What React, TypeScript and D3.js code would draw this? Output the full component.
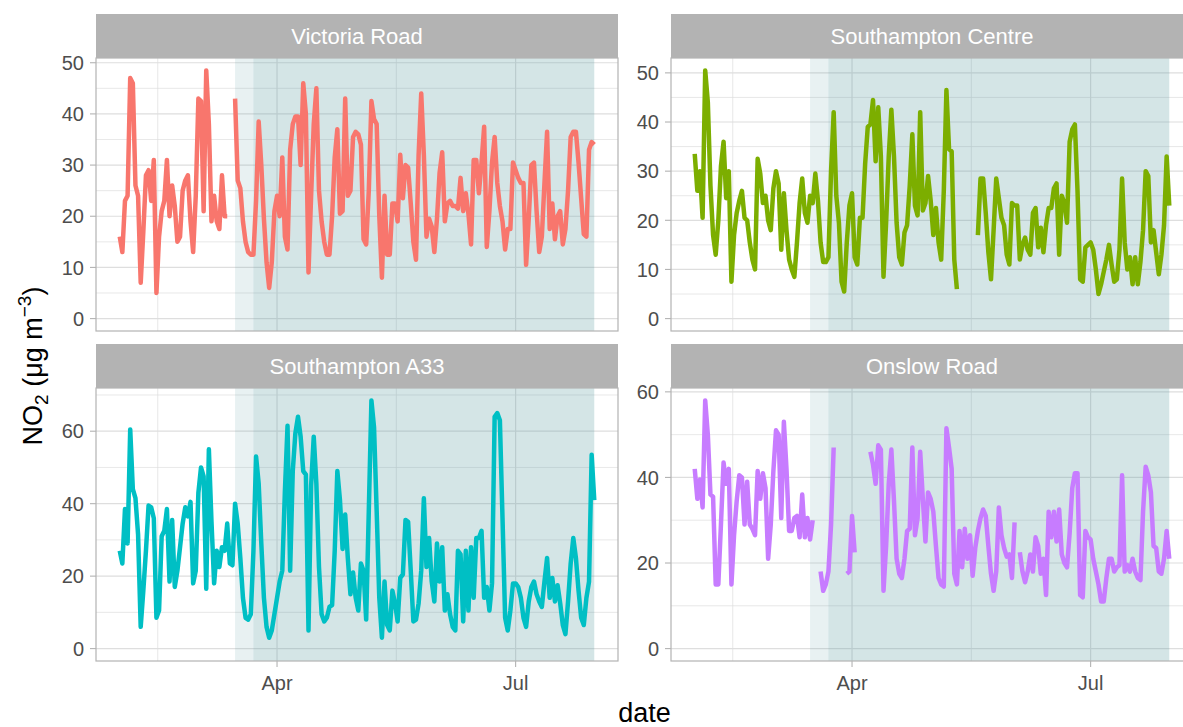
import React from 'react';
import * as d3 from 'd3';

const stationNames = ['Victoria Road', 'Southampton Centre', 'Southampton A33', 'Onslow Road'];
const stationColors = ['#F8766D', '#7CAE00', '#00BFC4', '#C77CFF'];

// daily NO2 (µg m-3), 1 Feb 2020 – 31 Jul 2020, null = missing
const victoriaRoad: (number | null)[] = [
  16, 13, 23, 24, 47, 46, 26, 24, 7, 17,
  28, 29, 23, 31, 5, 16, 21, 23, 31, 20,
  26, 22, 15, 16, 25, 27, 28, 19, 13, 24,
  43, 42.5, 21, 48.5, 38, 19, 24, 19, 17.5, 28,
  20, 20, null, null, 43, 27, 25.5, 19, 15, 13,
  12.5, 12.5, 23, 38.5, 30, 19.5, 11, 6, 11, 21,
  24, 20, 31.5, 16, 13.5, 33, 38, 39.5, 39.5, 30,
  46, 40, 9, 24, 38, 45, 25, 19, 15, 12.5,
  12.5, 20, 31.5, 37, 20.5, 21, 43, 24, 25, 35.5,
  36.5, 36, 34, 15.5, 14.5, 25, 42.5, 39, 38, 20,
  8, 24, 12.5, 12.5, 22.5, 22.5, 19, 32, 23.5, 30,
  29.5, 22.5, 15, 11.5, 32, 44, 32, 16, 19.5, 18,
  13, 19.5, 28.5, 32.5, 19, 22.5, 23, 22, 22, 21.5,
  27.5, 21, 24.5, 20.5, 14.5, 31, 31, 24.5, 30.5, 37.5,
  14, 21, 30.5, 35.5, 26.5, 22, 19, 13.5, 17.5, 17.5,
  30.5, 29, 27.5, 26.5, 26.5, 10.5, 19.5, 30, 30.5, 21,
  13, 16, 26.5, 36.5, 17.5, 22.5, 15.5, 20, 21, 14.5,
  17.5, 25, 35.5, 36.5, 36.5, 30.5, 23.5, 16.5, 16, 33,
  34.5, 34,
];

const southamptonCentre: (number | null)[] = [
  33.5, 26, 30, 20.5, 50.5, 44, 27, 17, 13, 20,
  31, 36, 24.5, 30, 7.5, 17, 21.5, 24, 26, 20.5,
  20, 15.5, 12, 10, 32.5, 29.5, 23.5, 25, 20, 18,
  26.5, 30, 27.5, 14, 25.5, 18, 12, 10, 8.5, 15.5,
  23.5, 28.5, 21.5, 19.5, 25, 23.5, 29.5, 24, 15.5, 11.5,
  11.5, 12.5, 30, 42, 25, 19.5, 7.5, 5.5, 15.5, 23,
  25.5, 12.5, 11, 20.5, 20.5, 31.5, 39, 39.5, 44.5, 32,
  43, 33, 8.5, 19.5, 33, 42.5, 33, 19.5, 12.5, 11,
  17.5, 19, 27, 37.5, 23, 21, 42, 22, 23.5, 29,
  24, 17, 22.5, 15.5, 12, 26, 46.5, 34.5, 34, 12,
  6, null, null, null, null, null, null, null, 17, 28.5,
  28.5, 21.5, 13.5, 8, 18, 28.5, 24.5, 20.5, 19, 13,
  11, 23.5, 23, 23, 12, 15, 16.5, 14, 13, 21.5,
  22.5, 14.5, 18.5, 13.5, 19, 22.5, 22.5, 26.5, 27.5, 13,
  25, 23.5, 19.5, 36, 38.5, 39.5, 26, 8, 7.5, 14.5,
  15, 15.5, 14, 10, 5, 7, 9.5, 12, 15, 11,
  7.5, 8, 14, 28.5, 15.5, 10, 12.5, 7, 12.5, 7,
  11.5, 18, 30, 29, 15.5, 18, 13.5, 9, 13, 19,
  33, 23,
];

const southamptonA33: (number | null)[] = [
  27, 23.5, 38.5, 29, 60.5, 44, 41.5, 31.5, 6, 16,
  27, 39.5, 39, 36, 8.5, 10.5, 31, 32.5, 38.5, 18.5,
  35.5, 17, 21.5, 28, 34.5, 39, 36.5, 40.5, 18, 21.5,
  43, 50, 47.5, 16.5, 55, 35, 18, 27, 22.5, 28,
  27, 34.5, 23.5, 23, 40, 34.5, 25, 14, 8.5, 8,
  9.5, 27, 53, 45.5, 29, 14, 6, 3, 5, 9.5,
  14, 18.5, 21.5, 43.5, 61.5, 21.5, 49, 59.5, 64, 58.5,
  49, 48, 5, 45, 58.5, 45.5, 22.5, 9.5, 7.5, 8.5,
  11.5, 12, 27, 49, 41, 27.5, 37, 25, 15, 21,
  14, 10.5, 23.5, 21.5, 8, 38, 68.5, 61, 38, 14,
  3, 18.5, 6.5, 5, 16, 12.5, 7.5, 19.5, 20.5, 35.5,
  35, 21.5, 7.5, 8, 12.5, 21.5, 41.5, 22.5, 30.5, 18.5,
  13, 29, 18.5, 28, 10.5, 15, 9.5, 6, 5, 27,
  26, 7.5, 27, 10.5, 28, 14, 30.5, 30.5, 32.5, 14,
  17, 10.5, 18, 64, 65, 63, 36, 8.5, 5, 10.5,
  18, 18, 17, 14, 8.5, 6, 13, 17, 18.5, 15,
  13, 11.5, 18.5, 25, 14, 19.5, 13, 17.5, 12.5, 6.5,
  4, 13, 23.5, 30.5, 25, 16, 8.5, 6.5, 14, 18.5,
  53.5, 41,
];

const onslowRoad: (number | null)[] = [
  42, 35, 39.5, 33, 58, 50, 36, 35.5, 15, 15,
  29, 43.5, 38.5, 42, 15, 26.5, 34.5, 40.5, 40, 29,
  39, 29, 28, 26.5, 41.5, 35, 41, 37.5, 21, 29,
  41.5, 51, 50, 30.5, 53, 42, 27.5, 27.5, 30.5, 31,
  26, 36, 26, 30.5, 25.5, 30, null, null, 18, 13.5,
  15, 18, 29, 47, null, null, null, null, 17.5, 18,
  31, 22.5, null, null, null, null, null, 46, 43, 38.5,
  47.5, 46.5, 13.5, 24, 38.5, 46.5, 34.5, 21, 17.5, 16.5,
  21, 27.5, 28, 47, 26.5, 30.5, 46, 35, 25, 36.5,
  35, 32, 24, 16.5, 15, 14.5, 51.5, 47, 42, 17.5,
  15, 27.5, 19, 28, 21, 26.5, 17, 23.5, 27.5, 30.5,
  32.5, 31, 24, 17.5, 13.5, 18, 33, 26.5, 23.5, 21.5,
  22, 16.5, 29.5, null, 22.5, 18, 15.5, 18, 22, 18,
  26, 24, 17.5, 21, 12.5, 32, 26, 32, 25, 32.5,
  22, 20, 19, 27, 37.5, 41, 41, 12.5, 12, 27.5,
  26, 25.5, 21, 18, 15, 11, 11, 16.5, 21, 21,
  18, 19, 19.5, 40.5, 18, 19.5, 18, 21, 18, 16.5,
  16, 32, 42.5, 40.5, 36.5, 24, 23.5, 18, 17.5, 21,
  27.5, 21,
];

const seriesValues = [victoriaRoad, southamptonCentre, southamptonA33, onslowRoad];
const yTickValues = [
  [0, 10, 20, 30, 40, 50],
  [0, 10, 20, 30, 40, 50],
  [0, 20, 40, 60],
  [0, 20, 40, 60],
];
const xTickDates = [new Date(2020, 0, 1), new Date(2020, 3, 1), new Date(2020, 6, 1), new Date(2020, 9, 1)];
const xTickLabels = ['Jan', 'Apr', 'Jul', 'Oct'];
const firstDay = new Date(2020, 1, 1);
const shadeStarts = [new Date(2020, 2, 16), new Date(2020, 2, 23)];
const shadeEnd = new Date(2020, 6, 31);

const W = 1183;
const H = 727;
const colX = [96, 671];
const panelW = 522;
const stripTop = [14, 344];
const stripH = 44;
const panelH = 273;
const FONT = '"Liberation Sans", Arial, Helvetica, sans-serif';
const GRID = '#DEDEDE';
const BORDER = '#B3B3B3';

const dates = d3.timeDay.range(firstDay, d3.timeDay.offset(firstDay, victoriaRoad.length));
const lastDay = dates[dates.length - 1];
const span = +lastDay - +firstDay;
const x = d3
  .scaleTime()
  .domain([new Date(+firstDay - 0.05 * span), new Date(+lastDay + 0.05 * span)])
  .range([0, panelW]);

function Panel({ idx }: { idx: number }) {
  const col = idx % 2;
  const row = Math.floor(idx / 2);
  const px = colX[col];
  const sTop = stripTop[row];
  const pTop = sTop + stripH;
  const values = seriesValues[idx];
  const maxV = d3.max(values, (v) => (v == null ? undefined : v)) as number;
  const y = d3
    .scaleLinear()
    .domain([-0.05 * maxV, maxV * 1.05])
    .range([panelH, 0]);
  const ticks = yTickValues[idx];
  const step = ticks[1] - ticks[0];
  const minorY = [ticks[0] - step / 2, ...ticks.map((t) => t + step / 2)].filter(
    (v) => v >= y.domain()[0] && v <= y.domain()[1]
  );
  const [d0, d1] = x.domain();
  const majorX = xTickDates.filter((d) => d >= d0 && d <= d1);
  const minorX: Date[] = [];
  for (let i = 0; i < xTickDates.length - 1; i++) {
    const m = new Date((+xTickDates[i] + +xTickDates[i + 1]) / 2);
    if (m >= d0 && m <= d1) minorX.push(m);
  }
  const line = d3
    .line<number | null>()
    .defined((v) => v != null)
    .x((_, i) => x(dates[i]))
    .y((v) => y(v as number));
  const clipId = `clip-${idx}`;
  return (
    <g>
      <rect x={px} y={sTop} width={panelW} height={stripH} fill="#B3B3B3" />
      <text
        x={px + panelW / 2}
        y={sTop + stripH / 2}
        dy="0.36em"
        textAnchor="middle"
        fill="#FFFFFF"
        fontSize={22}
        fontFamily={FONT}
      >
        {stationNames[idx]}
      </text>
      <g transform={`translate(${px},${pTop})`}>
        <defs>
          <clipPath id={clipId}>
            <rect x={0} y={0} width={panelW} height={panelH} />
          </clipPath>
        </defs>
        <rect x={0} y={0} width={panelW} height={panelH} fill="#FFFFFF" />
        {minorY.map((v) => (
          <line key={`my${v}`} x1={0} x2={panelW} y1={y(v)} y2={y(v)} stroke={GRID} strokeWidth={0.7} />
        ))}
        {minorX.map((d) => (
          <line key={`mx${+d}`} x1={x(d)} x2={x(d)} y1={0} y2={panelH} stroke={GRID} strokeWidth={0.7} />
        ))}
        {ticks.map((v) => (
          <line key={`gy${v}`} x1={0} x2={panelW} y1={y(v)} y2={y(v)} stroke={GRID} strokeWidth={1.2} />
        ))}
        {majorX.map((d) => (
          <line key={`gx${+d}`} x1={x(d)} x2={x(d)} y1={0} y2={panelH} stroke={GRID} strokeWidth={1.2} />
        ))}
        <g clipPath={`url(#${clipId})`}>
          {shadeStarts.map((s, i) => (
            <rect
              key={`sh${i}`}
              x={x(s)}
              y={0}
              width={x(shadeEnd) - x(s)}
              height={panelH}
              fill="#5F9EA0"
              fillOpacity={0.14}
            />
          ))}
          <path
            d={line(values) || ''}
            fill="none"
            stroke={stationColors[idx]}
            strokeWidth={4.5}
            strokeLinejoin="round"
            strokeLinecap="butt"
          />
        </g>
        <rect x={0} y={0} width={panelW} height={panelH} fill="none" stroke={BORDER} strokeWidth={1.2} />
        {ticks.map((v) => (
          <g key={`yt${v}`}>
            <line x1={-6} x2={0} y1={y(v)} y2={y(v)} stroke={BORDER} strokeWidth={1.1} />
            <text
              x={-12}
              y={y(v)}
              dy="0.36em"
              textAnchor="end"
              fill="#4D4D4D"
              fontSize={20}
              fontFamily={FONT}
            >
              {v}
            </text>
          </g>
        ))}
        {row === 1 &&
          majorX.map((d) => (
            <g key={`xt${+d}`}>
              <line x1={x(d)} x2={x(d)} y1={panelH} y2={panelH + 6} stroke={BORDER} strokeWidth={1.1} />
              <text
                x={x(d)}
                y={panelH + 29}
                textAnchor="middle"
                fill="#4D4D4D"
                fontSize={20}
                fontFamily={FONT}
              >
                {xTickLabels[xTickDates.indexOf(d)]}
              </text>
            </g>
          ))}
      </g>
    </g>
  );
}

export default function App() {
  return (
    <svg
      width={W}
      height={H}
      viewBox={`0 0 ${W} ${H}`}
      style={{ position: 'absolute', left: 0, top: 0, background: '#FFFFFF' }}
    >
      <rect x={0} y={0} width={W} height={H} fill="#FFFFFF" />
      {stationNames.map((_, i) => (
        <Panel key={i} idx={i} />
      ))}
      <text
        x={(colX[0] + colX[1] + panelW) / 2}
        y={722}
        textAnchor="middle"
        fill="#000000"
        fontSize={27}
        fontFamily={FONT}
      >
        date
      </text>
      <text
        transform="translate(42,366) rotate(-90)"
        textAnchor="middle"
        fill="#000000"
        fontSize={27}
        fontFamily={FONT}
      >
        NO
        <tspan dy={6} fontSize={19}>2</tspan>
        <tspan dy={-6}> (μg m</tspan>
        <tspan dy={-11} fontSize={19}>−3</tspan>
        <tspan dy={11}>)</tspan>
      </text>
    </svg>
  );
}
